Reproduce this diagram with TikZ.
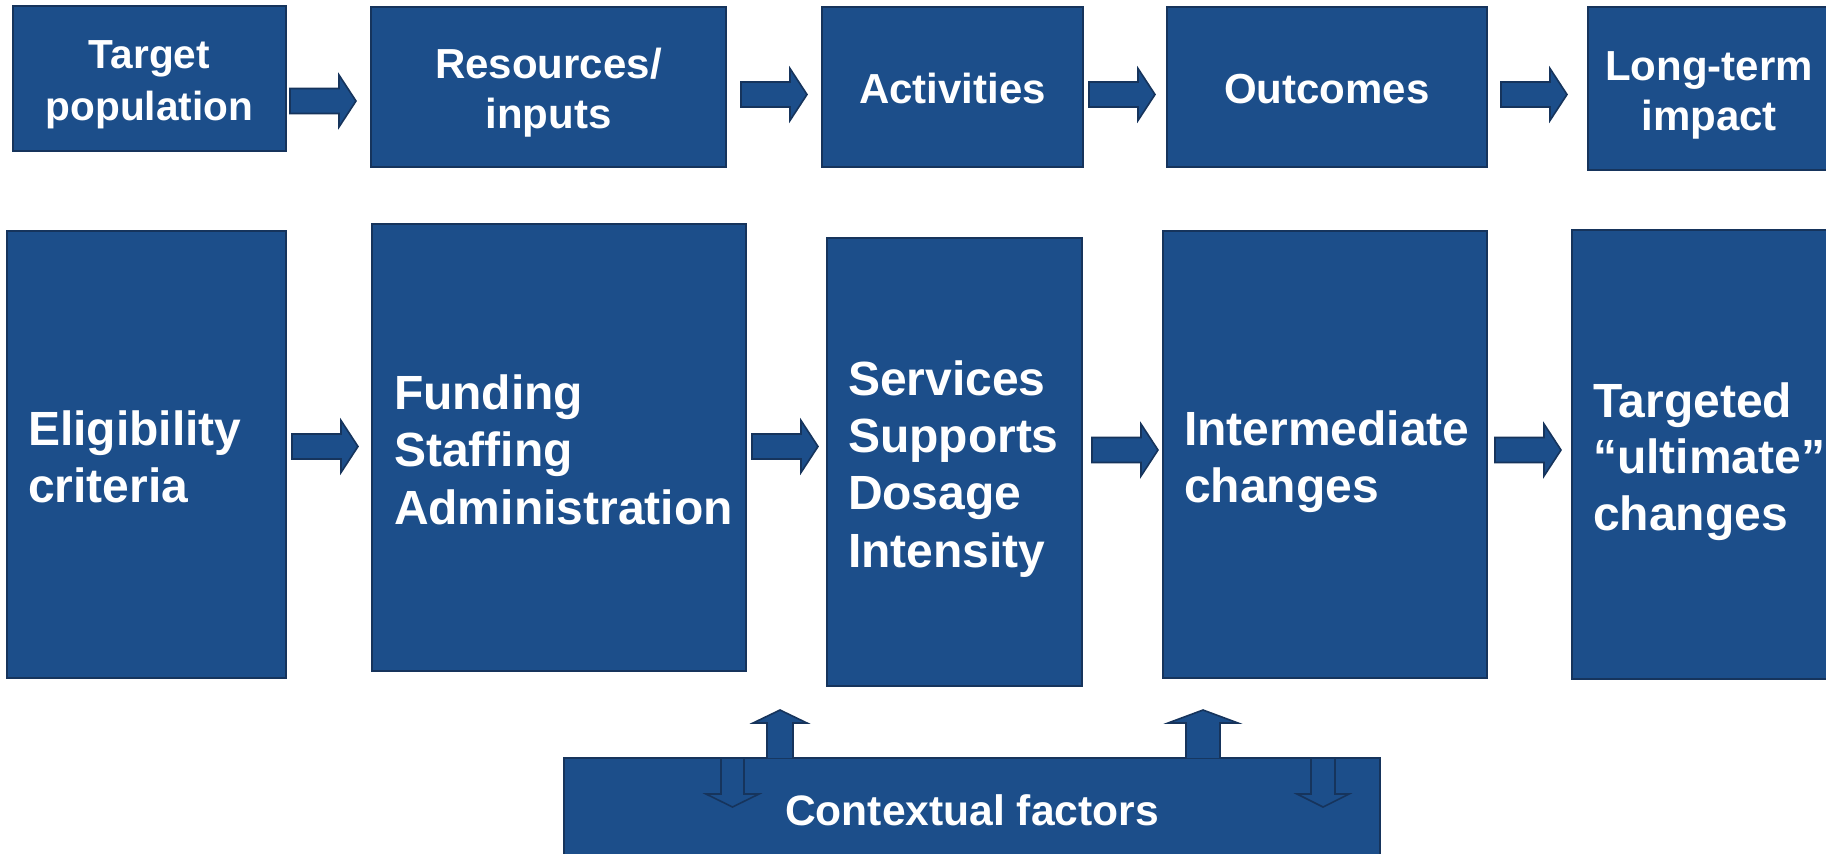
\documentclass[tikz,border=0pt]{standalone}
\usepackage{fontspec}
\setmainfont{Liberation Sans}
\usepackage{tikz}
\usetikzlibrary{positioning}
\usepackage{xcolor}

\definecolor{boxblue}{RGB}{28,78,138}
\definecolor{boxline}{RGB}{22,52,92}

\begin{document}
\begin{tikzpicture}[
    x=0.5pt, y=-0.5pt,
    box/.style       = {rectangle, draw=boxline, fill=boxblue, line width=0.8pt, text=white, inner sep=0pt,
                        execute at begin node={\rule{0pt}{1.05em}},
                        execute at end node={\rule[-0.25em]{0pt}{0.25em}}},
    headbox/.style   = {box, align=center, font=\fontsize{21}{25}\selectfont\bfseries},
    bodybox/.style   = {box, align=left, font=\fontsize{24}{28.7}\selectfont\bfseries},
    blockarrow/.style = {draw=boxline, fill=boxblue, line width=0.8pt, line join=miter},
    hollowarrow/.style = {draw=boxline, line width=0.8pt, line join=miter},
    rarrow/.pic = {\draw[blockarrow] (0,-12.5) -- (49,-12.5) -- (49,-26) -- (66,0)
                     -- (49,26) -- (49,12.5) -- (0,12.5) -- cycle;}
]
\useasboundingbox (0,0) rectangle (1826,853);

% header row
\node[headbox, minimum width=136.5pt, minimum height=72.5pt, text width=130pt,
      font=\fontsize{20.3}{26}\selectfont\bfseries]                         (pop) at (149.5,78.5) {Target\\population};
\node[headbox, minimum width=177.5pt, minimum height=80pt,   text width=170pt] (res) at (548.5,87)   {Resources/\\inputs};
\node[headbox, minimum width=130.5pt, minimum height=80pt,   text width=124pt] (act) at (952.5,87)   {Activities};
\node[headbox, minimum width=160pt,   minimum height=80pt,   text width=152pt] (out) at (1327,87)    {Outcomes};
\node[headbox, minimum width=121pt,   minimum height=81.5pt, text width=116pt] (lti) at (1709,88.5)  {Long-term\\impact};

% body row
\node[bodybox, minimum width=139.5pt, minimum height=223.5pt, text width=118.5pt] (elig)  at (146.5,454.5) {Eligibility\\criteria};
\node[bodybox, minimum width=187pt,   minimum height=223.5pt, text width=165pt]   (fund)  at (559,447.5)   {Funding\\Staffing\\Administration};
\node[bodybox, minimum width=127.5pt, minimum height=224pt,   text width=106.5pt] (serv)  at (954.5,462)   {Services\\Supports\\Dosage\\Intensity};
\node[bodybox, minimum width=162pt,   minimum height=223.5pt, text width=141pt]   (inter) at (1325,454.5)  {Intermediate\\changes};
\node[bodybox, minimum width=129pt,   minimum height=224.5pt, text width=108pt,
      font=\fontsize{24}{28.2}\selectfont\bfseries]                               (targ)  at (1701,454.5)  {Targeted\\``ultimate''\\changes};

% context bar
\node[box, minimum width=408pt, minimum height=50pt, font=\fontsize{21.3}{25}\selectfont\bfseries,
      execute at begin node={\rule{0pt}{0.925em}}] (ctx) at (972,808) {Contextual factors};

% arrows between the boxes
\foreach \x/\y in {290/101, 741/94.5, 1089/94.5, 1501/94.5,
                   292/446.5, 752/446.5, 1092/450, 1495/450}
  \pic at (\x,\y) {rarrow};

% context pushes up ...
\foreach \x/\sw/\hw in {780/13/27, 1203/17/35}
  \draw[blockarrow] (\x-\sw,758) -- (\x-\sw,723) -- (\x-\hw,723) -- (\x,710)
    -- (\x+\hw,723) -- (\x+\sw,723) -- (\x+\sw,758);
% ... and is pushed down
\foreach \x/\sw/\hw in {732.5/11.5/26.5, 1323/12/26}
  \draw[hollowarrow] (\x-\sw,759) -- (\x-\sw,794) -- (\x-\hw,794) -- (\x,807)
    -- (\x+\hw,794) -- (\x+\sw,794) -- (\x+\sw,759);
\end{tikzpicture}
\end{document}
